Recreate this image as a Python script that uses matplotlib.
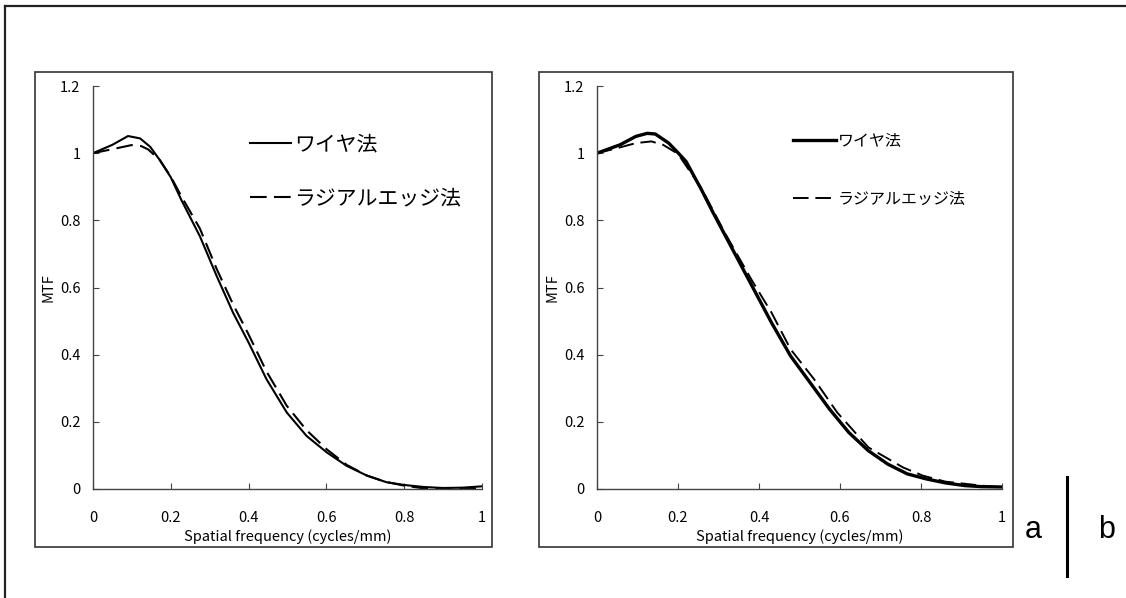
import matplotlib
matplotlib.use('Agg')
import matplotlib.pyplot as plt
from matplotlib.patches import Rectangle
from matplotlib.lines import Line2D

plt.rcParams['font.family'] = ['Noto Sans CJK JP', 'DejaVu Sans']

# panel a: wire method vs radial edge method
a_wire_x = [0, 0.05, 0.09, 0.121, 0.147, 0.172, 0.2, 0.227, 0.275, 0.318, 0.36, 0.40, 0.446,
            0.498, 0.549, 0.601, 0.652, 0.704, 0.755, 0.80, 0.85, 0.9, 0.95, 1.0]
a_wire_y = [1.0, 1.025, 1.051, 1.044, 1.019, 0.979, 0.928, 0.861, 0.752, 0.634, 0.525, 0.436, 0.327,
            0.228, 0.158, 0.109, 0.069, 0.040, 0.020, 0.012, 0.006, 0.003, 0.004, 0.008]
a_edge_x = [0, 0.05, 0.099, 0.124, 0.142, 0.172, 0.2, 0.227, 0.275, 0.318, 0.36, 0.40, 0.446,
            0.498, 0.549, 0.601, 0.652, 0.704, 0.75, 0.80, 0.85, 0.9, 0.95, 1.0]
a_edge_y = [1.0, 1.012, 1.024, 1.021, 1.011, 0.979, 0.93, 0.872, 0.775, 0.655, 0.55, 0.46, 0.35,
            0.248, 0.175, 0.118, 0.072, 0.040, 0.022, 0.01, 0.002, 0.0, 0.001, 0.003]

# panel b
b_wire_x = [0, 0.057, 0.096, 0.124, 0.144, 0.177, 0.201, 0.22, 0.258, 0.287, 0.335, 0.383, 0.431,
            0.478, 0.526, 0.574, 0.622, 0.67, 0.718, 0.766, 0.813, 0.861, 0.909, 0.95, 1.0]
b_wire_y = [1.0, 1.025, 1.05, 1.059, 1.057, 1.03, 1.0, 0.975, 0.891, 0.822, 0.713, 0.604, 0.495,
            0.396, 0.317, 0.238, 0.168, 0.114, 0.074, 0.045, 0.030, 0.018, 0.010, 0.007, 0.006]
b_edge_x = [0, 0.05, 0.096, 0.134, 0.163, 0.2, 0.258, 0.316, 0.383, 0.431, 0.478, 0.536, 0.593,
            0.67, 0.756, 0.804, 0.86, 0.95, 1.0]
b_edge_y = [1.0, 1.015, 1.03, 1.035, 1.025, 0.998, 0.895, 0.762, 0.62, 0.525, 0.416, 0.327, 0.228,
            0.124, 0.064, 0.040, 0.022, 0.01, 0.005]

labels = ['ワイヤ法', 'ラジアルエッジ法']
x_ticks = [0, 0.2, 0.4, 0.6, 0.8, 1.0]
x_ticklabels = ['0', '0.2', '0.4', '0.6', '0.8', '1']
y_ticks = [0, 0.2, 0.4, 0.6, 0.8, 1.0, 1.2]
y_ticklabels = ['0', '0.2', '0.4', '0.6', '0.8', '1', '1.2']

W, H = 1126, 598
fig = plt.figure(figsize=(W / 100, H / 100), dpi=100)


def fx(px):
    return px / W


def fy(py):
    return 1 - py / H


# outer frame (only top and left visible)
fig.add_artist(Line2D([fx(5), fx(5)], [fy(6), 0], transform=fig.transFigure, color='#222', lw=1.6))
fig.add_artist(Line2D([fx(5), 1], [fy(6), fy(6)], transform=fig.transFigure, color='#222', lw=1.6))

# panel boxes
for x0, x1 in [(35, 492), (539, 1013)]:
    fig.add_artist(Rectangle((fx(x0), fy(547)), fx(x1) - fx(x0), fy(72) - fy(547),
                             transform=fig.transFigure, fill=False, ec='#333', lw=1.2))


def setup(ax):
    ax.set_xlim(0, 1)
    ax.set_ylim(0, 1.2)
    for s in ['top', 'right']:
        ax.spines[s].set_visible(False)
    for s in ['left', 'bottom']:
        ax.spines[s].set_color('#444')
        ax.spines[s].set_linewidth(1.0)
    ax.set_xticks(x_ticks)
    ax.set_xticklabels(x_ticklabels)
    ax.set_yticks(y_ticks)
    ax.set_yticklabels(y_ticklabels)
    ax.tick_params(axis='both', direction='in', length=4, color='#444', labelsize=10.5)
    ax.tick_params(axis='x', pad=16)
    ax.tick_params(axis='y', pad=9)
    ax.set_xlabel('Spatial frequency (cycles/mm)', fontsize=10.5, labelpad=3)
    ax.set_ylabel('MTF', fontsize=10.5, labelpad=3)
    ax.patch.set_visible(False)


ax1 = fig.add_axes([fx(93), fy(489), fx(482) - fx(93), fy(86) - fy(489)])
ax1.plot(a_wire_x, a_wire_y, color='black', lw=1.5, label=labels[0])
ax1.plot(a_edge_x, a_edge_y, color='black', lw=1.5, dashes=(8, 3.5), label=labels[1])
setup(ax1)
ax1.legend(loc='upper left', bbox_to_anchor=(fx(250), fy(133)), bbox_transform=fig.transFigure,
           frameon=False, fontsize=15, handlelength=1.95, handletextpad=0.15,
           labelspacing=1.55, borderpad=0, borderaxespad=0)

ax2 = fig.add_axes([fx(597), fy(489), fx(1002) - fx(597), fy(86) - fy(489)])
ax2.plot(b_wire_x, b_wire_y, color='black', lw=2.4, label=labels[0])
ax2.plot(b_edge_x, b_edge_y, color='black', lw=1.4, dashes=(8, 3.5), label=labels[1])
setup(ax2)
ax2.legend(loc='upper left', bbox_to_anchor=(fx(793), fy(133)), bbox_transform=fig.transFigure,
           frameon=False, fontsize=11.5, handlelength=2.7, handletextpad=0.1,
           labelspacing=2.55, borderpad=0, borderaxespad=0)

# a | b marker
fig.text(fx(1033), fy(530), 'a', fontsize=22, family='Liberation Sans', ha='center', va='center')
fig.text(fx(1107), fy(530), 'b', fontsize=22, family='Liberation Sans', ha='center', va='center')
fig.add_artist(Line2D([fx(1067), fx(1067)], [fy(477), fy(576)], transform=fig.transFigure,
                      color='black', lw=2.2))

fig.savefig('out.png', dpi=100)
